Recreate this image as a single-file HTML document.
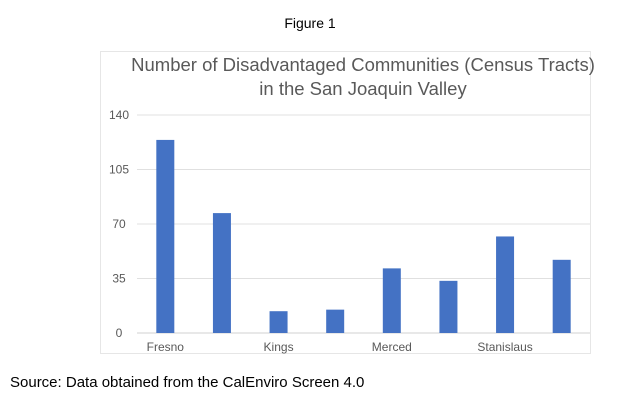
<!DOCTYPE html>
<html><head><meta charset="utf-8"><style>
body{margin:0;background:#fff;width:620px;height:413px;overflow:hidden;font-family:"Liberation Sans",sans-serif}
</style></head><body>
<svg width="620" height="413" xmlns="http://www.w3.org/2000/svg">
<text x="310" y="28" text-anchor="middle" font-size="14" fill="#000">Figure 1</text>
<rect x="100.5" y="51.5" width="490" height="302" fill="#fff" stroke="#e6e6e6"/>
<text x="363" y="71" text-anchor="middle" font-size="18.5" fill="#595959">Number of Disadvantaged Communities (Census Tracts)</text>
<text x="363" y="95" text-anchor="middle" font-size="18.5" fill="#595959">in the San Joaquin Valley</text>
<g id="grid"></g><g id="bars"></g><g id="labels"></g>
<text x="10" y="387" font-size="15" fill="#000">Source: Data obtained from the CalEnviro Screen 4.0</text>
</svg>
<script>
const categories=["Fresno","Kern","Kings","Madera","Merced","San Joaquin","Stanislaus","Tulare"];
const values=[124,77,14,15,41.5,33.5,62,47];
const ticks=[0,35,70,105,140];
const shownLabels=["Fresno","Kings","Merced","Stanislaus"];
const NS="http://www.w3.org/2000/svg";
const x0=137,x1=590,y0=333,y1=115,vmax=140;
const yS=v=>y0-(v/vmax)*(y0-y1);
const bw=(x1-x0)/categories.length;
const xC=i=>x0+bw*(i+0.5);
const g=document.getElementById('grid'),b=document.getElementById('bars'),l=document.getElementById('labels');
ticks.forEach(t=>{
 const ln=document.createElementNS(NS,'line');
 
 
 ln.setAttribute('x1',x0);ln.setAttribute('x2',x1);ln.setAttribute('y1',yS(t));ln.setAttribute('y2',yS(t));
 ln.setAttribute('stroke',t===0?'#d0d0d0':'#e0e0e0');ln.setAttribute('stroke-width','1');
 g.appendChild(ln);
 const tx=document.createElementNS(NS,'text');
 
 
 tx.setAttribute('x',119);tx.setAttribute('y',yS(t)+4);tx.setAttribute('text-anchor','middle');
 tx.setAttribute('font-size','12');tx.setAttribute('fill','#595959');tx.textContent=t;
 g.appendChild(tx);
});
values.forEach((v,i)=>{
 const r=document.createElementNS(NS,'rect');
 
 
 r.setAttribute('x',xC(i)-9);r.setAttribute('width',18);
 r.setAttribute('y',yS(v));r.setAttribute('height',y0-yS(v));r.setAttribute('fill','#4472c4');
 b.appendChild(r);
 if(shownLabels.includes(categories[i])){
  const tx=document.createElementNS(NS,'text');
  
  
  tx.setAttribute('x',xC(i));tx.setAttribute('y',351);tx.setAttribute('text-anchor','middle');
  tx.setAttribute('font-size','12');tx.setAttribute('fill','#595959');tx.textContent=categories[i];
  l.appendChild(tx);
 }
});
</script>
</body></html>
